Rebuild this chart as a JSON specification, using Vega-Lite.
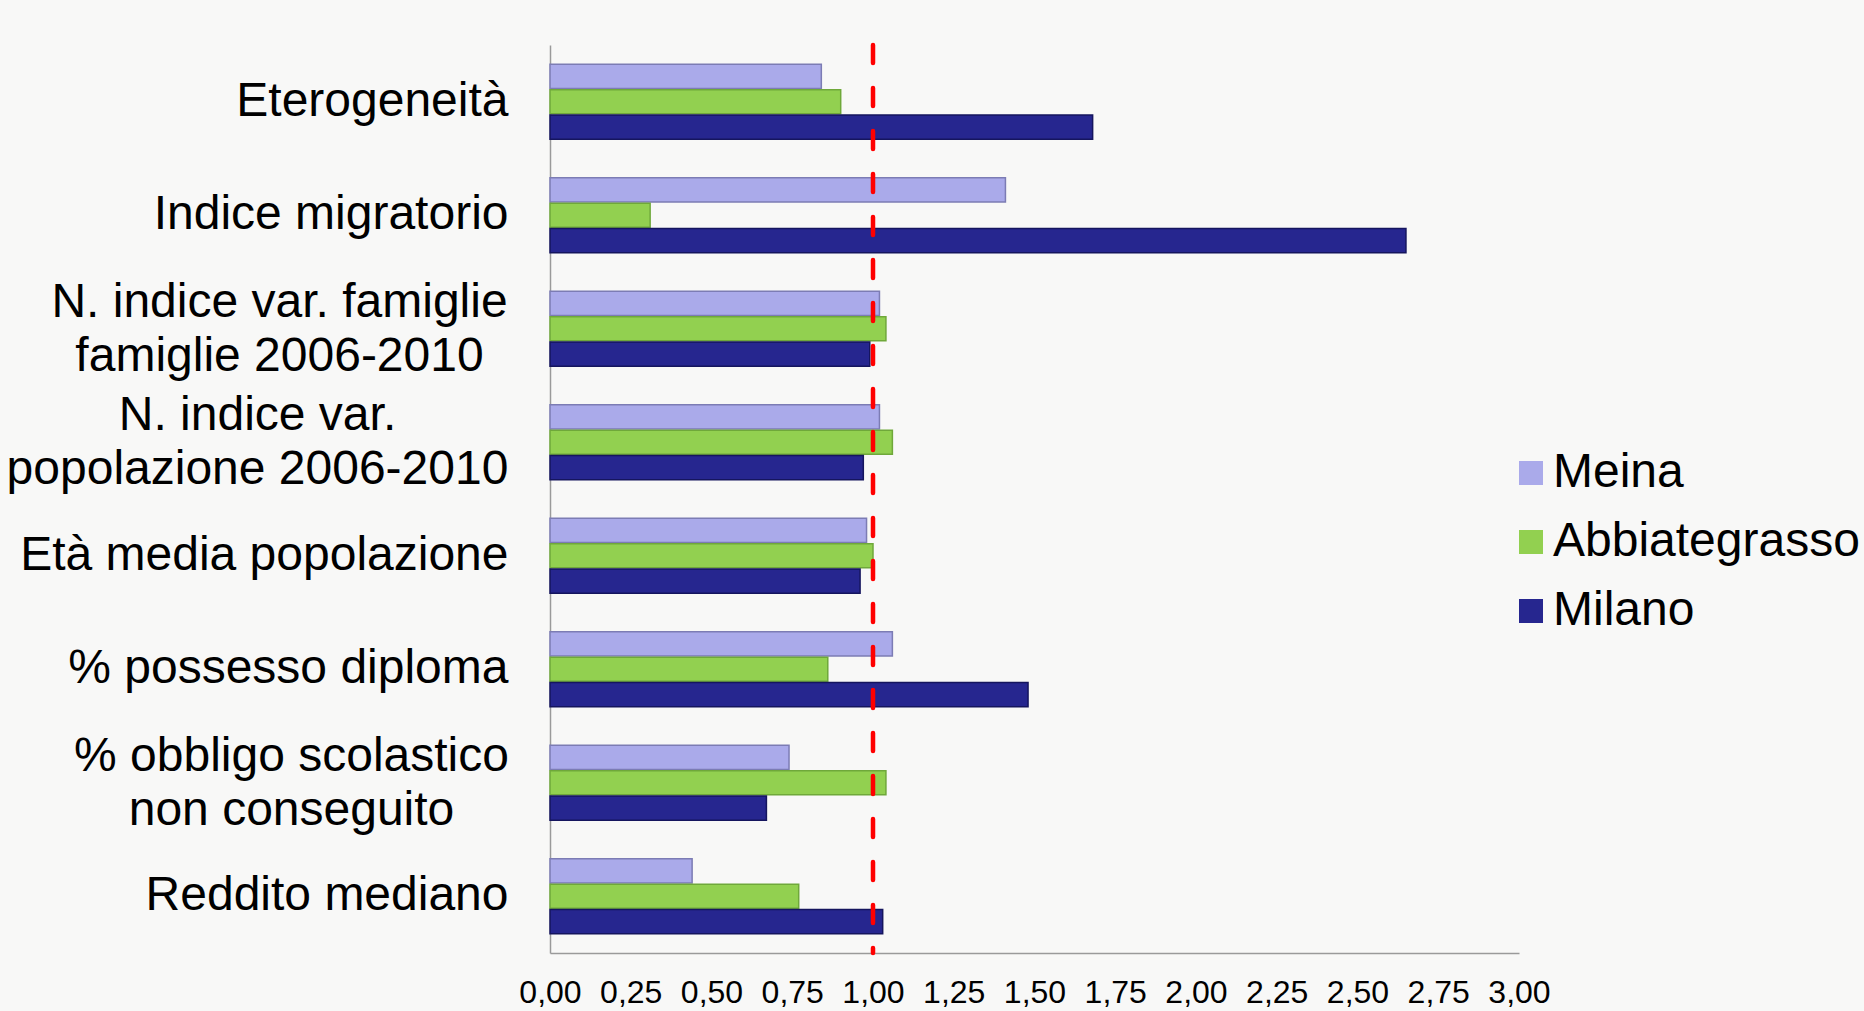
{
  "$schema": "https://vega.github.io/schema/vega-lite/v6.json",
  "width": 969,
  "height": 908,
  "autosize": {"type": "none"},
  "padding": {"left": 550, "top": 45, "right": 345, "bottom": 58},
  "background": "#f8f8f7",
  "config": {"view": {"stroke": null}, "font": "Liberation Sans"},
  "layer": [
    {
      "data": {
        "values": [
          {"cat": "Eterogeneità", "series": "Meina", "value": 0.84},
          {"cat": "Eterogeneità", "series": "Abbiategrasso", "value": 0.9},
          {"cat": "Eterogeneità", "series": "Milano", "value": 1.68},
          {"cat": "Indice migratorio", "series": "Meina", "value": 1.41},
          {"cat": "Indice migratorio", "series": "Abbiategrasso", "value": 0.31},
          {"cat": "Indice migratorio", "series": "Milano", "value": 2.65},
          {"cat": "N. indice var. famiglie|famiglie 2006-2010", "series": "Meina", "value": 1.02},
          {"cat": "N. indice var. famiglie|famiglie 2006-2010", "series": "Abbiategrasso", "value": 1.04},
          {"cat": "N. indice var. famiglie|famiglie 2006-2010", "series": "Milano", "value": 0.99},
          {"cat": "N. indice var.|popolazione 2006-2010", "series": "Meina", "value": 1.02},
          {"cat": "N. indice var.|popolazione 2006-2010", "series": "Abbiategrasso", "value": 1.06},
          {"cat": "N. indice var.|popolazione 2006-2010", "series": "Milano", "value": 0.97},
          {"cat": "Età media popolazione", "series": "Meina", "value": 0.98},
          {"cat": "Età media popolazione", "series": "Abbiategrasso", "value": 1.0},
          {"cat": "Età media popolazione", "series": "Milano", "value": 0.96},
          {"cat": "% possesso diploma", "series": "Meina", "value": 1.06},
          {"cat": "% possesso diploma", "series": "Abbiategrasso", "value": 0.86},
          {"cat": "% possesso diploma", "series": "Milano", "value": 1.48},
          {"cat": "% obbligo scolastico|non conseguito", "series": "Meina", "value": 0.74},
          {"cat": "% obbligo scolastico|non conseguito", "series": "Abbiategrasso", "value": 1.04},
          {"cat": "% obbligo scolastico|non conseguito", "series": "Milano", "value": 0.67},
          {"cat": "Reddito mediano", "series": "Meina", "value": 0.44},
          {"cat": "Reddito mediano", "series": "Abbiategrasso", "value": 0.77},
          {"cat": "Reddito mediano", "series": "Milano", "value": 1.03}
        ]
      },
      "mark": {"type": "bar", "strokeWidth": 1.5},
      "encoding": {
        "y": {
          "field": "cat",
          "type": "nominal",
          "sort": null,
          "scale": {"paddingInner": 0.34, "paddingOuter": 0.17},
          "axis": {
            "title": null,
            "domain": true,
            "domainColor": "#9a9a9a",
            "domainWidth": 1.5,
            "ticks": false,
            "grid": false,
            "labelFontSize": 48,
            "labelColor": "#000000",
            "labelLimit": 0,
            "labelLineHeight": 54,
            "labelExpr": "split(datum.label, '|')",
            "labelAlign": {"expr": "indexof(datum.value, '|') >= 0 ? 'center' : 'right'"},
            "labelOffset": {"expr": "indexof(datum.value, '|') >= 0 ? -26 : 0"},
            "labelPadding": {"expr": "datum.value == 'N. indice var. famiglie|famiglie 2006-2010' ? 271 : datum.value == 'N. indice var.|popolazione 2006-2010' ? 293 : datum.value == '% obbligo scolastico|non conseguito' ? 259 : 42"}
          }
        },
        "yOffset": {
          "field": "series",
          "type": "nominal",
          "sort": ["Meina", "Abbiategrasso", "Milano"],
          "scale": {"paddingInner": 0.05, "paddingOuter": 0}
        },
        "x": {
          "field": "value",
          "type": "quantitative",
          "scale": {"domain": [0, 3], "nice": false},
          "axis": {
            "title": null,
            "values": [0, 0.25, 0.5, 0.75, 1, 1.25, 1.5, 1.75, 2, 2.25, 2.5, 2.75, 3],
            "labelExpr": "replace(format(datum.value, '.2f'), '.', ',')",
            "domain": true,
            "domainColor": "#9a9a9a",
            "domainWidth": 1.5,
            "ticks": false,
            "grid": false,
            "labelFontSize": 32,
            "labelColor": "#000000",
            "labelPadding": 24,
            "labelFlush": false,
            "labelOverlap": false
          }
        },
        "color": {
          "field": "series",
          "type": "nominal",
          "scale": {
            "domain": ["Meina", "Abbiategrasso", "Milano"],
            "range": ["#aaaaea", "#92d050", "#26268f"]
          },
          "legend": {
            "title": null,
            "orient": "none",
            "legendX": 957,
            "legendY": 404,
            "symbolType": "square",
            "symbolSize": 576,
            "symbolStrokeWidth": 0,
            "labelFontSize": 48,
            "labelColor": "#000000",
            "labelOffset": -2,
            "rowPadding": 21,
            "padding": 0,
            "labelLimit": 0
          }
        },
        "stroke": {
          "field": "series",
          "type": "nominal",
          "scale": {
            "domain": ["Meina", "Abbiategrasso", "Milano"],
            "range": ["#7c7cb4", "#6fa83a", "#15155e"]
          },
          "legend": null
        }
      }
    },
    {
      "data": {"values": [{"ref": 1}]},
      "mark": {
        "type": "rule",
        "color": "#ff0000",
        "strokeWidth": 4.5,
        "strokeDash": [18, 25],
        "strokeCap": "round"
      },
      "encoding": {"x": {"field": "ref", "type": "quantitative"}}
    }
  ]
}
